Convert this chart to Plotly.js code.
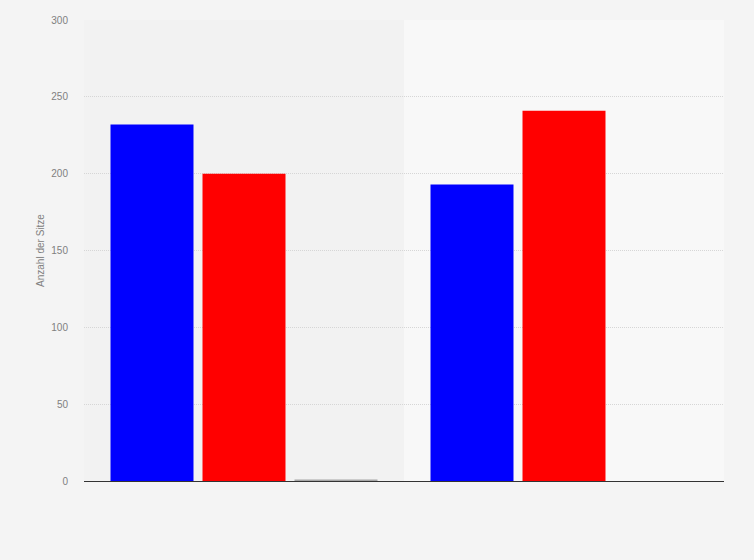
<!DOCTYPE html>
<html>
<head>
<meta charset="utf-8">
<script src="https://cdn.plot.ly/plotly-3.0.1.min.js"></script>
<style>
    html, body { margin: 0; padding: 0; background: #f4f4f4; }
    #chart { width: 754px; height: 560px; }
</style>
</head>
<body>
<div id="chart"></div>
<script>
// two elections, three groups of seats
const categories = ['Wahl 1', 'Wahl 2'];
const seriesNames = ['Demokraten', 'Republikaner', 'Sonstige'];
const seriesColors = ['#0000ff', '#ff0000', '#a6a6a6'];
const blueSeats = [232, 193];
const redSeats = [200, 241];
const otherSeats = [1, 0];
const yTicks = [0, 50, 100, 150, 200, 250, 300];

document.addEventListener('DOMContentLoaded', function() {
    const values = [blueSeats, redSeats, otherSeats];

    const traces = values.map(function(v, i) {
        return {
            x: categories,
            y: v,
            name: seriesNames[i],
            type: 'bar',
            marker: {
                color: seriesColors[i],
                line: { width: 0 }
            },
            hoverinfo: 'y+name'
        };
    });

    const layout = {
        width: 754,
        height: 560,
        paper_bgcolor: '#f4f4f4',
        plot_bgcolor: '#f2f2f2',
        margin: { l: 84, r: 30, t: 20, b: 79 },
        barmode: 'group',
        bargap: 0.1375,
        bargroupgap: 0.098,
        showlegend: false,
        font: { family: 'Liberation Sans, Arial, sans-serif', size: 10, color: '#808080' },
        xaxis: {
            type: 'category',
            showticklabels: false,
            showgrid: false,
            zeroline: false,
            showline: false,
            fixedrange: true
        },
        yaxis: {
            range: [0, 300],
            tickvals: yTicks,
            ticktext: yTicks.map(String),
            gridcolor: '#d6d6d6',
            griddash: '1px,1px',
            gridwidth: 1,
            zeroline: true,
            zerolinecolor: '#333',
            zerolinewidth: 1,
            ticklabelstandoff: 15,
            title: { text: 'Anzahl der Sitze', font: { size: 10, color: '#808080' }, standoff: 4 },
            fixedrange: true
        },
        // lighter band behind the second category
        shapes: [{
            type: 'rect',
            xref: 'x', yref: 'paper',
            x0: 0.5, x1: 1.5, y0: 0, y1: 1,
            fillcolor: '#f8f8f8',
            line: { width: 0 },
            layer: 'below'
        }]
    };

    Plotly.newPlot('chart', traces, layout, { displayModeBar: false, staticPlot: true });
});
</script>
</body>
</html>
